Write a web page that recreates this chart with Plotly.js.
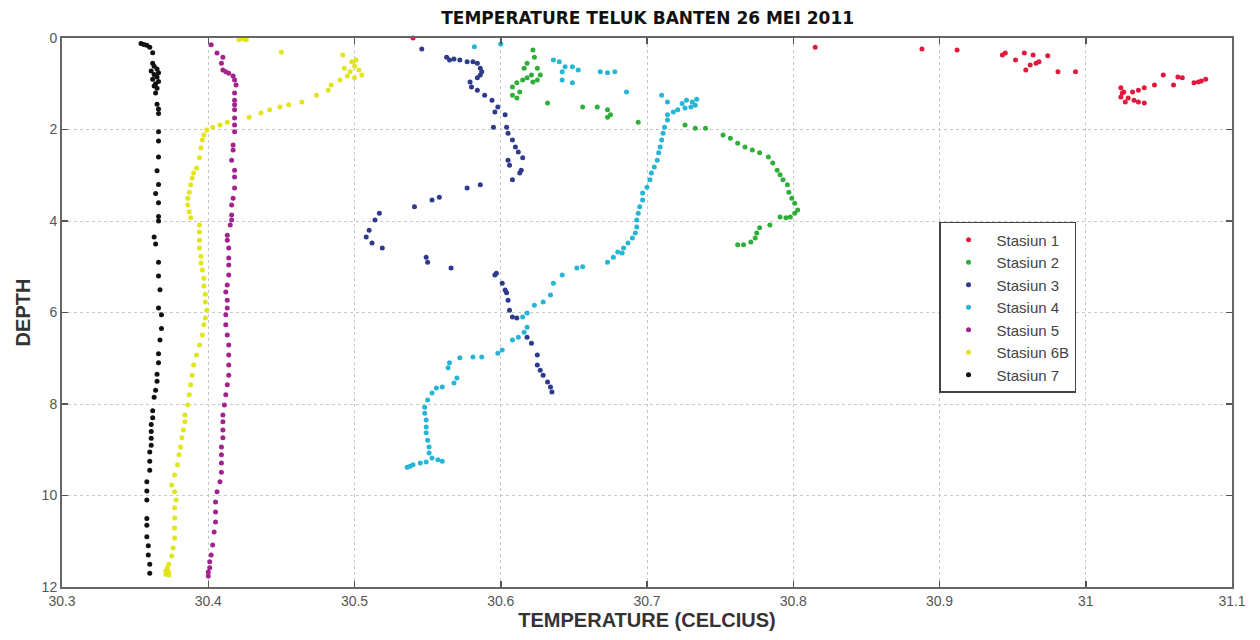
<!DOCTYPE html>
<html>
<head>
<meta charset="utf-8">
<script src="https://cdn.plot.ly/plotly-3.0.1.min.js"></script>
<style>html,body{margin:0;padding:0;background:#fff;}#chart{width:1260px;height:640px;}</style>
</head>
<body>
<div id="chart"></div>
<script>
// ---- data (temperature in Celsius, depth) ----
const seriesNames = ["Stasiun 1","Stasiun 2","Stasiun 3","Stasiun 4","Stasiun 5","Stasiun 6B","Stasiun 7"];

const s1T = [30.540,30.815,30.888,30.912,30.943,30.945,30.952,30.958,30.964,30.974,30.959,30.962,30.966,30.968,30.981,30.993,
             31.024,31.025,31.024,31.029,31.033,31.036,31.040,31.032,31.036,31.040,31.047,31.053,31.060,31.063,31.066,31.074,31.079,31.082,31.077,31.027,31.026];
const s1D = [0.00,0.20,0.24,0.26,0.37,0.33,0.48,0.33,0.37,0.39,0.70,0.59,0.55,0.52,0.74,0.74,
             1.09,1.20,1.29,1.31,1.36,1.40,1.42,1.18,1.14,1.09,1.03,0.81,1.03,0.85,0.87,0.98,0.94,0.90,0.96,1.40,1.18];

const s2T = [30.622,30.623,30.618,30.616,30.625,30.627,30.621,30.615,30.622,30.608,30.611,30.613,30.608,30.611,30.618,30.625,30.632,
             30.656,30.666,30.673,30.675,30.673,30.694,30.726,30.733,30.740,30.752,30.757,30.762,30.767,30.772,30.777,30.783,30.786,
             30.789,30.791,30.793,30.796,30.797,30.799,30.801,30.803,30.801,30.798,30.795,30.791,30.784,30.777,30.775,30.774,30.771,30.766,30.762];
const s2D = [0.26,0.42,0.55,0.66,0.66,0.81,0.81,0.92,0.96,1.07,0.98,1.18,1.25,1.31,0.87,0.92,1.42,
             1.51,1.51,1.57,1.68,1.73,1.84,1.90,1.97,1.97,2.12,2.19,2.30,2.38,2.45,2.51,2.60,2.73,
             2.89,2.99,3.10,3.21,3.37,3.50,3.61,3.76,3.83,3.91,3.93,3.91,4.09,4.15,4.26,4.37,4.46,4.52,4.52];

const s3T = [30.546,30.563,30.565,30.568,30.572,30.577,30.581,30.584,30.586,30.587,30.586,30.584,30.579,30.580,30.584,30.589,30.594,
             30.598,30.596,30.603,30.595,30.604,30.605,30.608,30.610,30.612,30.615,30.605,30.606,30.613,30.614,30.608,30.586,30.577,
             30.558,30.553,30.541,30.517,30.514,30.510,30.508,30.512,30.519,30.549,30.550,30.566,30.596,30.597,30.601,30.603,30.604,
             30.605,30.606,30.608,30.611,30.618,30.621,30.625,30.625,30.627,30.629,30.632,30.634,30.635];
const s3D = [0.24,0.42,0.48,0.46,0.48,0.52,0.52,0.55,0.66,0.74,0.81,0.87,0.96,1.07,1.14,1.25,1.36,
             1.51,1.62,1.68,1.95,1.95,2.08,2.23,2.38,2.49,2.62,2.67,2.78,2.95,2.89,3.10,3.21,3.28,
             3.48,3.54,3.69,3.83,3.98,4.20,4.35,4.48,4.59,4.79,4.90,5.03,5.18,5.14,5.36,5.51,5.57,
             5.73,5.95,6.10,6.12,6.54,6.67,6.93,7.15,7.26,7.37,7.52,7.63,7.74];

const s4T = [30.582,30.600,30.636,30.640,30.644,30.642,30.642,30.649,30.649,30.653,30.668,30.673,30.678,30.686,30.710,30.714,
             30.724,30.727,30.731,30.734,30.733,30.730,30.726,30.721,30.718,30.714,30.714,30.712,30.711,30.710,30.709,30.708,30.707,
             30.705,30.703,30.702,30.700,30.697,30.697,30.695,30.694,30.693,30.693,30.692,30.690,30.687,30.684,30.683,30.680,30.677,
             30.673,30.656,30.652,30.642,30.636,30.634,30.629,30.623,30.618,30.615,30.618,30.616,30.612,30.608,30.601,30.598,30.587,
             30.581,30.572,30.565,30.564,30.570,30.568,30.560,30.556,30.553,30.550,30.548,30.548,30.549,30.549,30.549,30.550,30.551,
             30.551,30.553,30.557,30.560,30.549,30.545,30.540,30.538,30.536];
const s4D = [0.19,0.13,0.48,0.52,0.63,0.74,0.92,0.98,0.63,0.70,0.74,0.76,0.74,1.18,1.25,1.40,
             1.43,1.36,1.40,1.34,1.47,1.51,1.53,1.57,1.62,1.68,1.79,1.95,2.08,2.23,2.38,2.51,2.67,
             2.82,2.95,3.10,3.26,3.39,3.54,3.69,3.83,3.98,4.13,4.26,4.37,4.48,4.59,4.70,4.68,4.79,
             4.90,5.00,5.03,5.18,5.36,5.62,5.77,5.84,6.01,6.10,6.32,6.43,6.54,6.60,6.82,6.89,6.97,
             6.97,6.99,7.10,7.21,7.43,7.54,7.63,7.65,7.76,7.91,8.07,8.20,8.35,8.50,8.63,8.79,8.94,
             9.07,9.18,9.22,9.25,9.27,9.29,9.33,9.36,9.38];

const s5T = [30.402,30.406,30.410,30.409,30.410,30.412,30.414,30.417,30.418,30.419,30.418,30.418,30.418,30.418,30.418,30.418,30.418,
             30.417,30.417,30.416,30.418,30.418,30.418,30.417,30.416,30.416,30.416,30.415,30.413,30.413,30.414,30.414,30.414,30.414,
             30.413,30.412,30.413,30.413,30.412,30.412,30.413,30.414,30.414,30.414,30.414,30.413,30.412,30.411,30.410,30.410,30.410,
             30.410,30.409,30.409,30.409,30.409,30.408,30.406,30.405,30.405,30.405,30.404,30.403,30.402,30.401,30.401,30.400,30.400];
const s5D = [0.15,0.33,0.42,0.55,0.70,0.74,0.77,0.83,0.92,1.03,1.20,1.36,1.46,1.57,1.75,1.90,2.05,
             2.34,2.45,2.67,2.89,3.04,3.28,3.50,3.65,3.87,3.98,4.09,4.31,4.42,4.59,4.81,4.96,5.18,
             5.40,5.55,5.73,5.90,6.05,6.27,6.49,6.71,6.93,7.15,7.37,7.58,7.80,8.02,8.24,8.39,8.57,
             8.74,8.94,9.11,9.29,9.49,9.70,9.92,10.14,10.36,10.58,10.80,11.08,11.30,11.45,11.58,11.67,11.76];

const s6T = [30.421,30.424,30.426,30.450,30.492,30.501,30.493,30.497,30.500,30.503,30.505,30.495,30.500,30.498,30.490,
             30.484,30.482,30.474,30.464,30.455,30.449,30.442,30.436,30.428,30.413,30.408,30.403,30.399,30.397,30.396,30.395,
             30.394,30.392,30.390,30.389,30.388,30.387,30.386,30.386,30.387,30.388,30.394,30.394,30.394,30.394,30.395,30.395,
             30.396,30.397,30.397,30.398,30.398,30.399,30.398,30.397,30.396,30.394,30.392,30.390,30.389,30.388,30.387,30.386,
             30.384,30.384,30.383,30.382,30.381,30.380,30.379,30.377,30.375,30.377,30.378,30.377,30.377,30.377,30.377,30.376,
             30.375,30.373,30.372,30.371,30.373,30.371,30.373];
const s6D = [0.04,0.02,0.04,0.31,0.37,0.48,0.66,0.74,0.61,0.70,0.81,0.83,0.87,0.52,0.92,
             1.03,1.14,1.25,1.40,1.46,1.51,1.57,1.64,1.73,1.84,1.90,1.95,2.01,2.12,2.23,2.40,
             2.62,2.84,2.95,3.06,3.21,3.37,3.50,3.65,3.80,3.93,4.09,4.24,4.42,4.59,4.77,4.92,
             5.07,5.25,5.42,5.60,5.77,5.95,6.12,6.27,6.49,6.71,6.93,7.15,7.37,7.58,7.80,8.02,
             8.24,8.39,8.57,8.74,8.94,9.11,9.33,9.55,9.77,9.92,10.10,10.27,10.49,10.71,10.93,11.15,
             11.32,11.50,11.58,11.65,11.67,11.72,11.74];

const s7T = [30.354,30.356,30.358,30.360,30.362,30.362,30.363,30.365,30.361,30.366,30.363,30.365,30.362,30.366,30.364,30.363,
             30.365,30.364,30.365,30.366,30.366,30.366,30.366,30.366,30.365,30.366,30.364,30.366,30.366,30.366,30.363,30.364,
             30.366,30.366,30.367,30.366,30.368,30.368,30.367,30.366,30.366,30.365,30.365,30.364,30.363,30.362,30.362,30.361,
             30.361,30.361,30.361,30.360,30.360,30.360,30.358,30.358,30.358,30.358,30.358,30.358,30.359,30.359,30.360,30.360];
const s7D = [0.12,0.14,0.16,0.20,0.32,0.55,0.62,0.68,0.72,0.76,0.80,0.85,0.90,0.95,1.00,1.05,
             1.10,1.20,1.45,1.55,1.65,2.05,2.25,2.60,2.90,3.20,3.40,3.60,3.90,4.00,4.35,4.50,
             4.90,5.20,5.50,5.90,6.05,6.35,6.60,6.90,7.10,7.35,7.50,7.70,7.85,8.15,8.30,8.45,
             8.60,8.75,8.90,9.05,9.25,9.45,9.70,9.90,10.10,10.50,10.65,10.90,11.10,11.30,11.50,11.70];

const xTickVals = [30.3,30.4,30.5,30.6,30.7,30.8,30.9,31.0,31.1];
const xTickText = ["30.3","30.4","30.5","30.6","30.7","30.8","30.9","31","31.1"];
const yTickVals = [0,2,4,6,8,10,12];
const yTickText = ["0","2","4","6","8","10","12"];

// ---- styling ----
const colors = ["#e3183d","#2fae3a","#2e3a8c","#25b6d6","#a2238e","#e2e41c","#111111"];
const xs = [s1T,s2T,s3T,s4T,s5T,s6T,s7T];
const ys = [s1D,s2D,s3D,s4D,s5D,s6D,s7D];

const traces = seriesNames.map((n,i)=>({
  type:'scatter', mode:'markers', name:n, x:xs[i], y:ys[i],
  marker:{color:colors[i], size:5}, cliponaxis:false
}));

const axisCommon = {
  showline:true, linecolor:'#666', linewidth:2, mirror:'ticks',
  ticks:'inside', ticklen:6, tickcolor:'#555', tickwidth:1.5,
  showgrid:true, gridcolor:'#c8c8c8', griddash:'dot', gridwidth:1,
  zeroline:false,
  tickfont:{family:'Liberation Sans, Arial, sans-serif', size:14, color:'#555'}
};

const layout = {
  width:1260, height:640,
  margin:{l:62, r:28, t:38, b:53},
  paper_bgcolor:'#fff', plot_bgcolor:'#fff',
  title:{text:'<b>TEMPERATURE TELUK BANTEN 26 MEI 2011</b>', x:0.514, xanchor:'center', y:0.972, yanchor:'middle',
         font:{family:'DejaVu Sans, sans-serif', size:17, color:'#111'}},
  xaxis:Object.assign({}, axisCommon, {
    range:[30.3,31.1], tickvals:xTickVals, ticktext:xTickText,
    title:{text:'<b>TEMPERATURE (CELCIUS)</b>', standoff:2,
           font:{family:'Liberation Sans, Arial, sans-serif', size:20, color:'#333'}}
  }),
  yaxis:Object.assign({}, axisCommon, {
    range:[12,0], tickvals:yTickVals, ticktext:yTickText,
    title:{text:'<b>DEPTH</b>', standoff:6,
           font:{family:'Liberation Sans, Arial, sans-serif', size:20, color:'#333'}}
  }),
  legend:{x:0.7496, y:0.665, xanchor:'left', yanchor:'top',
          bgcolor:'#fff', bordercolor:'#444', borderwidth:1.5,
          font:{family:'Liberation Sans, Arial, sans-serif', size:15, color:'#444'},
          tracegroupgap:0, itemwidth:46},
  showlegend:true
};

Plotly.newPlot('chart', traces, layout, {displayModeBar:false, staticPlot:true});
</script>
</body>
</html>
